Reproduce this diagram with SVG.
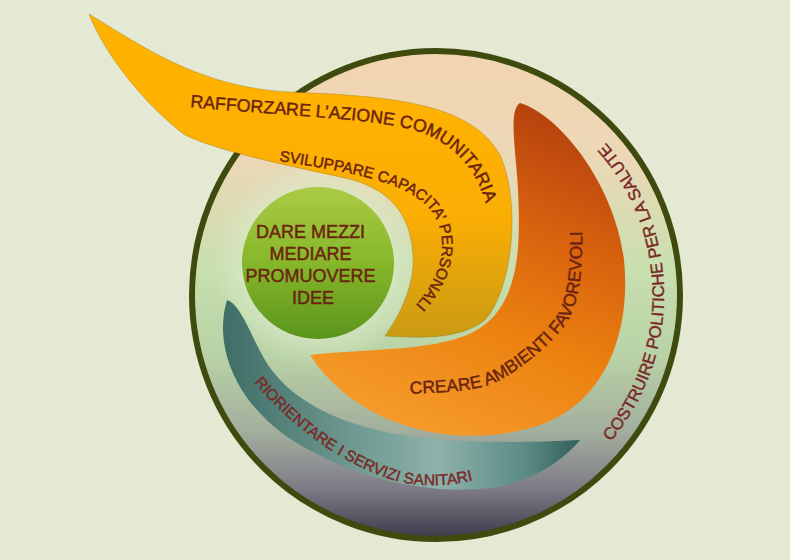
<svg xmlns="http://www.w3.org/2000/svg" width="790" height="560" viewBox="0 0 790 560">
<style>
.lbl{font-family:"Liberation Sans",Arial,sans-serif;fill:#6b2410;stroke:#6b2410;stroke-width:0.45;}
.red{fill:#7a2a26;stroke:#7a2a26;}
</style>
<defs>
<linearGradient id="gOuter" x1="0" y1="51" x2="0" y2="539" gradientUnits="userSpaceOnUse">
<stop offset="0" stop-color="#f2d4b0"/>
<stop offset="0.22" stop-color="#ecd8b6"/>
<stop offset="0.45" stop-color="#c8dfae"/>
<stop offset="0.62" stop-color="#b9d3a6"/>
<stop offset="0.78" stop-color="#a3ae9e"/>
<stop offset="0.9" stop-color="#7d7a86"/>
<stop offset="1" stop-color="#3c3848"/>
</linearGradient>
<radialGradient id="gGlow" cx="318" cy="263" r="105" gradientUnits="userSpaceOnUse">
<stop offset="0.65" stop-color="#dcebcc" stop-opacity="0.7"/>
<stop offset="1" stop-color="#dcebcc" stop-opacity="0"/>
</radialGradient>
<linearGradient id="gGreen" x1="0" y1="187" x2="0" y2="339" gradientUnits="userSpaceOnUse">
<stop offset="0" stop-color="#aacb44"/>
<stop offset="0.5" stop-color="#86b72a"/>
<stop offset="1" stop-color="#5a951c"/>
</linearGradient>
<linearGradient id="gYellow" x1="0" y1="90" x2="0" y2="340" gradientUnits="userSpaceOnUse">
<stop offset="0" stop-color="#ffb200"/>
<stop offset="0.5" stop-color="#fbae04"/>
<stop offset="1" stop-color="#c89a14"/>
</linearGradient>
<linearGradient id="gOrange" x1="560" y1="105" x2="420" y2="430" gradientUnits="userSpaceOnUse">
<stop offset="0" stop-color="#b23e0e"/>
<stop offset="0.35" stop-color="#d9620e"/>
<stop offset="0.65" stop-color="#ec8210"/>
<stop offset="1" stop-color="#f59a2a"/>
</linearGradient>
<linearGradient id="gTeal" x1="225" y1="0" x2="582" y2="0" gradientUnits="userSpaceOnUse">
<stop offset="0" stop-color="#3f6e66"/>
<stop offset="0.35" stop-color="#6e9890"/>
<stop offset="0.6" stop-color="#8db2aa"/>
<stop offset="0.85" stop-color="#5a8984"/>
<stop offset="1" stop-color="#2f5d58"/>
</linearGradient>
<path id="pRaff" d="M190,107 C280,116 380,118 420,132 C455,145 480,170 490,220"/>
<path id="pSvil" d="M279,161 C350,172 405,182 428,207 C450,232 448,275 408,313"/>
<path id="pCrea" d="M410,394 C450,392 480,391 500,380 C525,366 550,345 565,325 C580,303 583,270 582,222"/>
<path id="pRior" d="M250,378 C290,425 340,465 400,482 C430,488 455,485 478,479"/>
<path id="pCost" d="M610.7,441.6 A228,228 0 0 0 597.2,133.8"/>
</defs>
<rect width="790" height="560" fill="#e3e9d2"/>
<g id="outer">
<circle cx="436" cy="295" r="244" fill="url(#gOuter)" stroke="#3f4a0e" stroke-width="6"/>
<circle cx="318" cy="263" r="105" fill="url(#gGlow)"/>
</g>
<g id="riorientare">
<path d="M227,300 C212,350 240,410 300,445 C360,480 430,495 490,488 C535,482 565,458 580,440 C540,442 480,444 425,438 C350,430 295,405 268,365 C252,340 242,305 227,300 Z" fill="url(#gTeal)"/>
<text class="lbl red" font-size="15.5"><textPath href="#pRior" startOffset="6">RIORIENTARE I SERVIZI SANITARI</textPath></text>
</g>
<g id="creare">
<path d="M520,103 C560,115 615,185 624,260 C632,340 600,410 530,428 C450,450 355,425 310,355 C370,348 445,352 480,328 C522,300 520,240 518,190 C516,150 508,110 520,103 Z" fill="url(#gOrange)"/>
<text class="lbl" font-size="17.5"><textPath href="#pCrea">CREARE AMBIENTI FAVOREVOLI</textPath></text>
</g>
<g id="rafforzare">
<path d="M89,14 C140,45 200,88 290,92 C380,96 470,100 500,155 C522,205 512,290 485,320 C460,340 420,338 385,336 C400,315 415,285 413,255 C411,215 390,188 345,178 C280,164 215,150 185,135 C145,105 105,55 89,14 Z" fill="url(#gYellow)" stroke="#8a6a10" stroke-opacity="0.35" stroke-width="1"/>
<text class="lbl" font-size="17.8"><textPath href="#pRaff">RAFFORZARE L’AZIONE COMUNITARIA</textPath></text>
<text class="lbl" font-size="15.3"><textPath href="#pSvil">SVILUPPARE CAPACITA’ PERSONALI</textPath></text>
</g>
<g id="centro">
<circle cx="318" cy="263" r="76" fill="url(#gGreen)"/>
<text class="lbl" font-size="18" text-anchor="middle">
<tspan x="313" y="238">DARE MEZZI</tspan>
<tspan x="313" y="260">MEDIARE</tspan>
<tspan x="313" y="282">PROMUOVERE</tspan>
<tspan x="313" y="304">IDEE</tspan>
</text>
</g>
<g id="costruire">
<text class="lbl red" font-size="16.8"><textPath href="#pCost">COSTRUIRE POLITICHE PER LA SALUTE</textPath></text>
</g>
</svg>
